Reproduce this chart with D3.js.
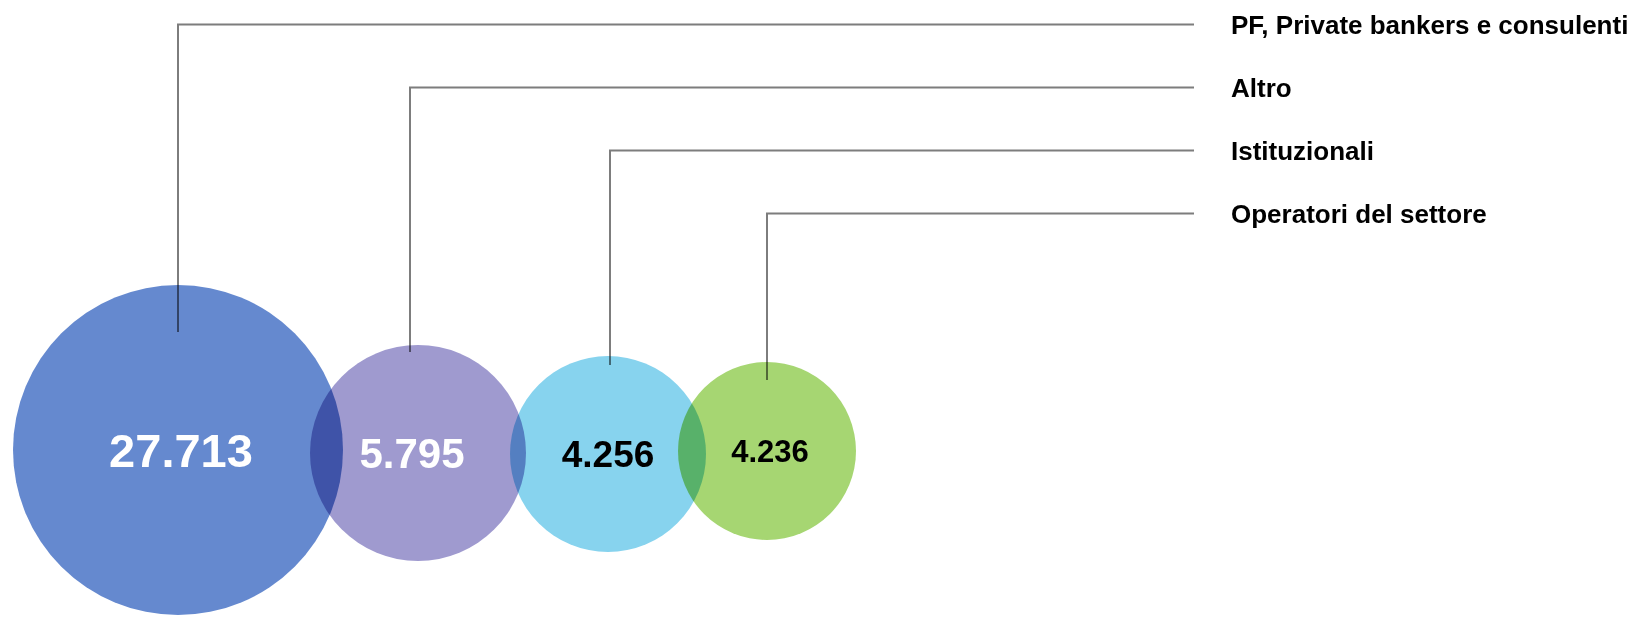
<!DOCTYPE html>
<html>
<head>
<meta charset="utf-8">
<script src="https://cdn.jsdelivr.net/npm/d3@7"></script>
<style>
body { margin: 0; background: #fff; }
svg { display: block; font-family: "Liberation Sans", Arial, sans-serif; font-weight: bold; }
</style>
</head>
<body>
<svg id="chart" width="1644" height="618"></svg>
<script>
var svg = d3.select("#chart");

var categories = ["PF, Private bankers e consulenti", "Altro", "Istituzionali", "Operatori del settore"];
var values = [27713, 5795, 4256, 4236];
var colors = ["#6589cf", "#9f9acf", "#87d3ee", "#a6d672"];
var valueColors = ["#fff", "#fff", "#000", "#000"];

var it = d3.formatLocale({decimal: ",", thousands: ".", grouping: [3], currency: ["€", ""]});
var fmt = it.format(",d");

// bubble layout, hand tuned like the original slide
var cx = d3.scaleOrdinal().domain(categories).range([178, 418, 608, 767]);
var cy = d3.scaleOrdinal().domain(categories).range([450, 453, 454, 451]);
var r = d3.scaleOrdinal().domain(categories).range([165, 108, 98, 89]);
var textX = d3.scaleOrdinal().domain(categories).range([181, 412, 608, 770]);
var lineX = d3.scaleOrdinal().domain(categories).range([178, 410, 610, 767]);
var lineEnd = d3.scaleOrdinal().domain(categories).range([332, 352, 365, 380]);
var fontSize = d3.scaleOrdinal().domain(categories).range([47, 42, 37, 31]);
var rowY = d3.scalePoint().domain(categories).range([24.5, 213.5]);

var data = categories.map(function(c, i){
	return {name: c, value: values[i], color: colors[i], textColor: valueColors[i]};
});

// leader lines first so the bubbles multiply over them
svg.selectAll("path.leader")
	.data(data).enter().append("path")
	.attr("class", "leader")
	.attr("fill", "none")
	.attr("stroke", "#7d7d7d")
	.attr("stroke-width", 2)
	.attr("d", function(d){
		return "M" + lineX(d.name) + "," + lineEnd(d.name) +
			"V" + rowY(d.name) + "H1194";
	});

svg.selectAll("circle")
	.data(data).enter().append("circle")
	.attr("cx", function(d){ return cx(d.name); })
	.attr("cy", function(d){ return cy(d.name); })
	.attr("r", function(d){ return r(d.name); })
	.attr("fill", function(d){ return d.color; })
	.style("mix-blend-mode", "multiply");

svg.selectAll("text.value")
	.data(data).enter().append("text")
	.attr("class", "value")
	.attr("x", function(d){ return textX(d.name); })
	.attr("y", function(d){ return cy(d.name); })
	.attr("dy", "0.36em")
	.attr("text-anchor", "middle")
	.attr("fill", function(d){ return d.textColor; })
	.style("font-size", function(d){ return fontSize(d.name) + "px"; })
	.text(function(d){ return fmt(d.value); });

svg.selectAll("text.label")
	.data(data).enter().append("text")
	.attr("class", "label")
	.attr("x", 1231)
	.attr("y", function(d){ return rowY(d.name); })
	.attr("dy", "0.36em")
	.attr("fill", "#000")
	.style("font-size", "26px")
	.text(function(d){ return d.name; });
</script>
</body>
</html>
